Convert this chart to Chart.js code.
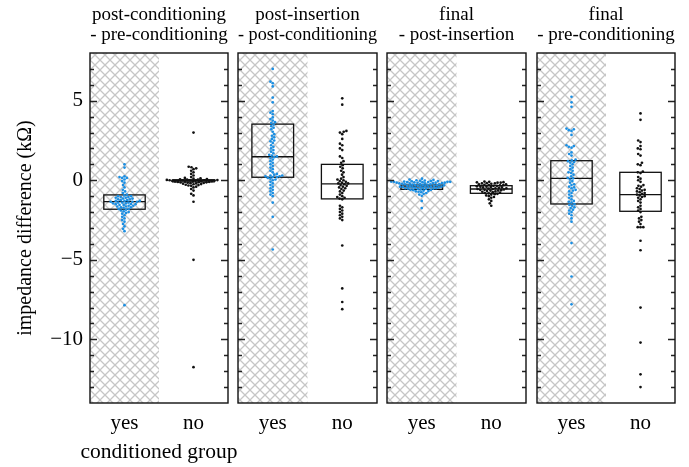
<!DOCTYPE html>
<html><head><meta charset="utf-8">
<script src="https://cdn.jsdelivr.net/npm/chart.js@4"></script>
<style>
html,body{margin:0;padding:0;background:#fff;}
#wrap{position:relative;width:689px;height:467px;background:#fff;}
canvas{position:absolute;left:0;top:0;}
</style></head><body>
<div id="wrap">
<canvas id="c0" width="689" height="467"></canvas>
<canvas id="c1" width="689" height="467"></canvas>
<canvas id="c2" width="689" height="467"></canvas>
<canvas id="c3" width="689" height="467"></canvas>
</div>
<script>
// ---------- data ----------
const categories = ['yes', 'no'];
const panelTitles = [
  ['post-conditioning', '- pre-conditioning'],
  ['post-insertion', '- post-conditioning'],
  ['final', '- post-insertion'],
  ['final', '- pre-conditioning']
];
const yTickValues = [-10, -5, 0, 5];
const yAxisTitle = 'impedance difference (k\u03A9)';
const xAxisTitle = 'conditioned group';

const yesP1 = [1.0, 0.8, 0.25, 0.2, 0.15, 0.15, 0.05, -0.05, -0.15, -0.3, -0.45, -0.6, -0.7, -0.8, -0.9, -0.95, -1.0, -1.0, -1.05, -1.05, -1.1, -1.1, -1.15, -1.15, -1.2, -1.2, -1.25, -1.25, -1.3, -1.3, -1.3, -1.35, -1.35, -1.35, -1.4, -1.4, -1.4, -1.45, -1.45, -1.5, -1.5, -1.5, -1.55, -1.55, -1.6, -1.6, -1.65, -1.65, -1.7, -1.7, -1.75, -1.8, -1.8, -1.85, -1.9, -1.95, -2.0, -2.05, -2.1, -2.2, -2.3, -2.4, -2.5, -2.6, -2.75, -2.9, -3.05, -3.2, -7.85];
const noP1 = [3.0, 0.85, 0.82, 0.75, 0.7, 0.6, 0.5, 0.4, 0.3, 0.2, 0.15, 0.12, 0.1, 0.08, 0.06, 0.05, 0.04, 0.02, 0.01, 0.0, 0.0, 0.0, -0.01, -0.02, -0.03, -0.04, -0.05, -0.06, -0.07, -0.08, -0.09, -0.1, -0.11, -0.12, -0.13, -0.14, -0.15, -0.17, -0.18, -0.2, -0.22, -0.24, -0.25, -0.28, -0.3, -0.33, -0.35, -0.4, -0.45, -0.55, -0.65, -0.85, -0.95, -1.35, -5.0, -11.75];

const yesP2 = [7.0, 6.2, 6.1, 5.9, 5.2, 4.9, 4.35, 4.25, 4.15, 3.95, 3.85, 3.75, 3.65, 3.6, 3.5, 3.4, 3.3, 3.2, 3.05, 2.9, 2.8, 2.7, 2.6, 2.5, 2.45, 2.35, 2.2, 2.1, 2.0, 1.9, 1.8, 1.7, 1.6, 1.55, 1.5, 1.45, 1.4, 1.3, 1.2, 1.1, 1.0, 0.9, 0.8, 0.7, 0.6, 0.5, 0.4, 0.35, 0.3, 0.3, 0.25, 0.25, 0.2, 0.2, 0.15, 0.1, 0.05, 0.0, -0.1, -0.2, -0.3, -0.4, -0.5, -0.6, -0.7, -0.8, -0.9, -1.0, -1.4, -2.3, -4.35];
const noP2 = [5.15, 4.75, 3.1, 3.05, 3.0, 2.9, 2.6, 2.3, 2.2, 2.0, 1.9, 1.5, 1.4, 1.2, 1.1, 0.95, 0.85, 0.75, 0.6, 0.5, 0.35, 0.2, 0.1, 0.05, 0.0, -0.05, -0.1, -0.15, -0.2, -0.2, -0.25, -0.3, -0.35, -0.4, -0.45, -0.5, -0.55, -0.65, -0.7, -0.8, -0.9, -1.0, -1.05, -1.1, -1.15, -1.2, -1.6, -1.7, -1.8, -1.9, -2.0, -2.1, -2.2, -2.3, -2.4, -2.5, -4.1, -6.8, -7.65, -8.1];

const yesP3 = [0.1, 0.05, 0.02, 0.0, -0.02, -0.03, -0.05, -0.05, -0.06, -0.08, -0.08, -0.1, -0.1, -0.1, -0.11, -0.12, -0.12, -0.13, -0.15, -0.15, -0.15, -0.16, -0.18, -0.18, -0.2, -0.2, -0.2, -0.22, -0.22, -0.24, -0.25, -0.25, -0.27, -0.28, -0.3, -0.3, -0.32, -0.32, -0.35, -0.35, -0.35, -0.38, -0.38, -0.4, -0.4, -0.4, -0.42, -0.42, -0.45, -0.45, -0.45, -0.48, -0.48, -0.5, -0.5, -0.52, -0.52, -0.55, -0.55, -0.58, -0.6, -0.6, -0.62, -0.65, -0.68, -0.7, -0.72, -0.75, -0.8, -0.85, -0.9, -0.98, -1.3, -1.75];
const noP3 = [-0.08, -0.1, -0.12, -0.13, -0.15, -0.15, -0.18, -0.2, -0.2, -0.22, -0.25, -0.25, -0.28, -0.3, -0.3, -0.32, -0.35, -0.35, -0.38, -0.4, -0.4, -0.42, -0.45, -0.45, -0.48, -0.5, -0.5, -0.52, -0.55, -0.55, -0.58, -0.6, -0.6, -0.62, -0.65, -0.65, -0.68, -0.7, -0.72, -0.75, -0.78, -0.8, -0.82, -0.85, -0.88, -0.9, -0.95, -1.0, -1.05, -1.1, -1.2, -1.3, -1.45, -1.6];

const yesP4 = [5.25, 4.9, 4.62, 3.25, 3.2, 3.15, 3.1, 2.85, 2.2, 2.15, 2.1, 2.05, 1.75, 1.65, 1.55, 1.3, 1.25, 1.2, 1.15, 1.1, 1.0, 0.9, 0.8, 0.7, 0.6, 0.5, 0.45, 0.35, 0.25, 0.15, 0.12, 0.05, -0.05, -0.15, -0.25, -0.3, -0.4, -0.45, -0.5, -0.6, -0.65, -0.7, -0.8, -0.9, -1.0, -1.1, -1.2, -1.3, -1.35, -1.4, -1.5, -1.55, -1.6, -1.7, -1.75, -1.85, -1.9, -2.0, -2.1, -2.2, -2.4, -2.6, -3.95, -6.05, -7.8];
const noP4 = [4.2, 3.8, 2.5, 2.4, 2.15, 2.0, 1.95, 1.65, 1.55, 1.1, 1.0, 0.95, 0.55, 0.5, 0.45, 0.2, 0.1, 0.0, -0.1, -0.3, -0.35, -0.4, -0.5, -0.55, -0.6, -0.65, -0.7, -0.75, -0.8, -0.85, -0.9, -0.95, -1.0, -1.05, -1.1, -1.2, -1.3, -1.4, -1.6, -1.7, -1.8, -1.9, -2.0, -2.3, -2.4, -2.5, -2.6, -2.75, -2.95, -2.95, -2.95, -3.8, -4.4, -8.0, -10.2, -12.2, -13.0];

// box statistics [yes, no] per panel
const boxQ1 = [[-1.82, -0.1], [0.19, -1.17], [-0.57, -0.82], [-1.49, -1.95]];
const boxMedian = [[-1.34, 0.0], [1.48, -0.23], [-0.42, -0.55], [0.12, -0.9]];
const boxQ3 = [[-0.92, 0.03], [3.53, 1.0], [-0.3, -0.34], [1.23, 0.5]];

const panelYes = [yesP1, yesP2, yesP3, yesP4];
const panelNo = [noP1, noP2, noP3, noP4];

// ---------- layout / style ----------
const W = 689, H = 467;
const panelLeft = [90, 238, 387, 537];
const panelRight = [228, 377, 526, 675];
const plotTop = 53, plotBottom = 403;
const yMin = -14, yMax = 8;
const FONT = "'Liberation Serif', 'Times New Roman', serif";
const FS_TITLE = 19, FS_TICK = 21, FS_XTITLE = 21.5, FS_YTITLE = 20;
const BLUE = '#1b8fe3';
const DOT = 2.8;        // dot spacing diameter in px
const BOX_HALF = 0.3;   // box half width in x units

function swarmOffsets(vals, pxPerY, d) {
  const pts = vals.map((v, i) => ({ i, y: v * pxPerY, x: 0 }));
  const order = pts.slice().sort((a, b) => a.y - b.y);
  const placed = [];
  for (const p of order) {
    const nb = placed.filter(q => Math.abs(q.y - p.y) < d);
    const cands = [0];
    for (const q of nb) {
      const dy = q.y - p.y;
      const dx = Math.sqrt(Math.max(0, d * d - dy * dy));
      cands.push(q.x + dx, q.x - dx);
    }
    cands.sort((a, b) => Math.abs(a) - Math.abs(b) || a - b);
    for (const c of cands) {
      let ok = true;
      for (const q of nb) {
        const dx = c - q.x, dy = p.y - q.y;
        if (dx * dx + dy * dy < d * d - 1e-6) { ok = false; break; }
      }
      if (ok) { p.x = c; break; }
    }
    placed.push(p);
  }
  const out = new Array(vals.length);
  for (const p of pts) out[p.i] = p.x;
  return out;
}

function hatchTile() {
  const s = 10, c = document.createElement('canvas');
  c.width = s; c.height = s;
  const g = c.getContext('2d');
  g.fillStyle = '#fff'; g.fillRect(0, 0, s, s);
  g.strokeStyle = '#c6c6c6'; g.lineWidth = 1.3;
  g.beginPath();
  g.moveTo(-1, -1); g.lineTo(s + 1, s + 1);
  g.moveTo(s + 1, -1); g.lineTo(-1, s + 1);
  g.stroke();
  return c;
}

const fmtTick = v => (v < 0 ? '\u2212' + Math.abs(v) : String(v));

for (let p = 0; p < 4; p++) {
  const L = panelLeft[p], R = panelRight[p];
  const pxPerX = (R - L) / 2;
  const pxPerY = (plotBottom - plotTop) / (yMax - yMin);
  const offY = swarmOffsets(panelYes[p], pxPerY, DOT);
  const offN = swarmOffsets(panelNo[p], pxPerY, DOT);
  const dataYes = panelYes[p].map((v, k) => ({ x: 0 + offY[k] / pxPerX, y: v }));
  const dataNo = panelNo[p].map((v, k) => ({ x: 1 + offN[k] / pxPerX, y: v }));
  const first = p === 0;

  const decor = {
    id: 'decor',
    beforeDatasetsDraw(chart) {
      const ctx = chart.ctx, a = chart.chartArea;
      const xs = chart.scales.x, ys = chart.scales.y;
      ctx.save();
      ctx.fillStyle = ctx.createPattern(hatchTile(), 'repeat');
      const xm = xs.getPixelForValue(0.5);
      ctx.fillRect(a.left, a.top, xm - a.left, a.bottom - a.top);
      ctx.strokeStyle = '#111';
      ctx.lineWidth = 1.3;
      for (let c = 0; c < 2; c++) {
        const x0 = xs.getPixelForValue(c - BOX_HALF), x1 = xs.getPixelForValue(c + BOX_HALF);
        const yq1 = ys.getPixelForValue(boxQ1[p][c]), yq3 = ys.getPixelForValue(boxQ3[p][c]);
        const ym = ys.getPixelForValue(boxMedian[p][c]);
        ctx.strokeRect(x0, yq3, x1 - x0, yq1 - yq3);
        ctx.beginPath(); ctx.moveTo(x0, ym); ctx.lineTo(x1, ym); ctx.stroke();
      }
      ctx.restore();
    },
    afterDatasetsDraw(chart) {
      const ctx = chart.ctx, a = chart.chartArea, ys = chart.scales.y;
      ctx.save();
      ctx.strokeStyle = '#222';
      ctx.lineWidth = 1.4;
      for (let v = yMin + 1; v < yMax; v++) {
        const y = Math.round(ys.getPixelForValue(v)) + 0.5;
        const len = yTickValues.includes(v) ? 7 : 4;
        ctx.beginPath();
        ctx.moveTo(a.left, y); ctx.lineTo(a.left + len, y);
        ctx.moveTo(a.right, y); ctx.lineTo(a.right - len, y);
        ctx.stroke();
      }
      ctx.strokeStyle = '#111';
      ctx.lineWidth = 1.4;
      ctx.strokeRect(a.left, a.top, a.right - a.left, a.bottom - a.top);
      if (first) {
        // x-axis title, centred under the first panel (not squeezed to the axis width)
        ctx.fillStyle = '#000';
        ctx.font = FS_XTITLE + 'px ' + FONT;
        ctx.textAlign = 'center';
        ctx.textBaseline = 'middle';
        ctx.fillText(xAxisTitle, (a.left + a.right) / 2, 452);
      }
      ctx.restore();
    }
  };

  new Chart(document.getElementById('c' + p), {
    type: 'scatter',
    data: {
      datasets: [
        { label: categories[0], data: dataYes, backgroundColor: BLUE, pointRadius: 1.35, pointBorderWidth: 0, borderWidth: 0 },
        { label: categories[1], data: dataNo, backgroundColor: '#111', pointRadius: 1.35, pointBorderWidth: 0, borderWidth: 0 }
      ]
    },
    plugins: [decor],
    options: {
      responsive: false,
      animation: false,
      devicePixelRatio: 1,
      events: [],
      layout: { padding: { left: 0, right: W - R, top: 0, bottom: 0 } },
      plugins: {
        legend: { display: false },
        tooltip: { enabled: false },
        title: {
          display: true,
          fullSize: false,
          text: panelTitles[p],
          color: '#000',
          font: { family: FONT, size: FS_TITLE, weight: 'normal', lineHeight: 1.05 },
          padding: { top: 5, bottom: 53 - 5 - 2 * FS_TITLE * 1.05 }
        }
      },
      scales: {
        x: {
          type: 'linear', min: -0.5, max: 1.5,
          grid: { display: false, drawTicks: false },
          border: { display: false },
          afterBuildTicks: s => { s.ticks = categories.map((c, i) => ({ value: i })); },
          afterFit: s => { s.height = H - plotBottom; },
          ticks: {
            color: '#000', padding: 9, maxRotation: 0, autoSkip: false,
            font: { family: FONT, size: FS_TICK, lineHeight: 1.1 },
            callback: v => categories[v]
          },
          title: { display: false }
        },
        y: {
          type: 'linear', min: yMin, max: yMax,
          grid: { display: false, drawTicks: false },
          border: { display: false },
          afterBuildTicks: s => { s.ticks = yTickValues.map(v => ({ value: v })); },
          afterFit: s => { s.width = L; },
          ticks: {
            display: first, color: '#000', padding: 7,
            font: { family: FONT, size: FS_TICK },
            callback: v => fmtTick(v)
          },
          title: {
            display: first, text: yAxisTitle, color: '#000',
            font: { family: FONT, size: FS_YTITLE }, padding: { top: 14, bottom: 0 }
          }
        }
      }
    }
  });
}
</script>
</body></html>
